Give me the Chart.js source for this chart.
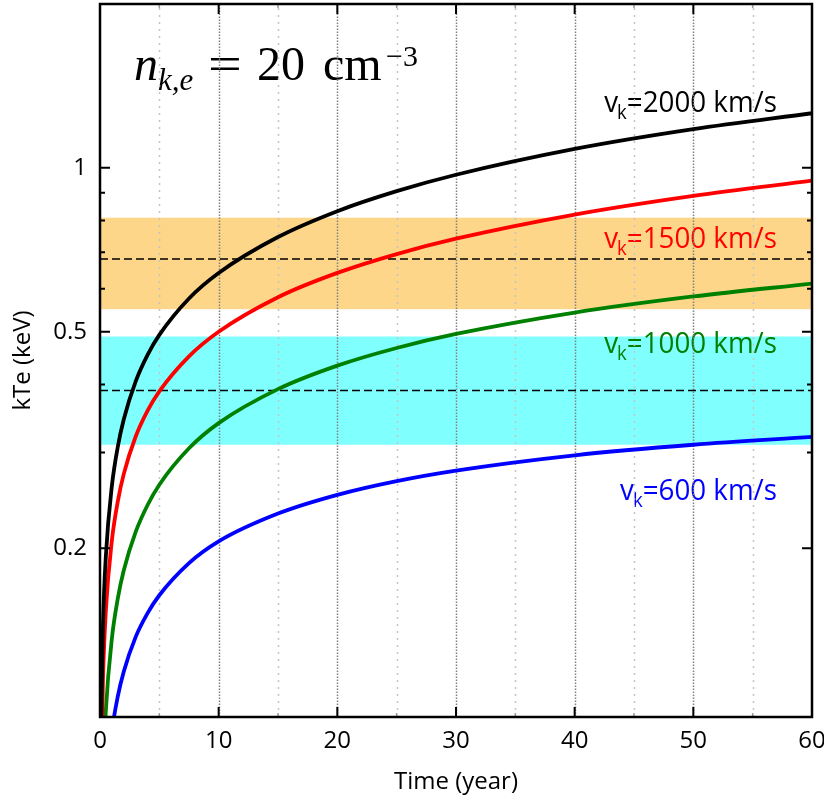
<!DOCTYPE html>
<html><head><meta charset="utf-8">
<script src="https://cdn.jsdelivr.net/npm/chart.js@4/dist/chart.umd.min.js"></script>
<style>html,body{margin:0;padding:0;background:#fff}#wrap{width:824px;height:809px}</style>
</head><body><div id="wrap"><canvas id="c" width="824" height="809"></canvas></div>
<script>
// ---- data ----
const times   = [0.1, 0.25, 0.5, 1, 1.5, 2, 3, 4, 5, 7.5, 10, 15, 20, 25, 30, 40, 50, 60];
const kTe2000 = [0.0965, 0.1444, 0.1946, 0.2603, 0.3074, 0.3449, 0.4048, 0.4528, 0.4933, 0.5755, 0.641, 0.7463, 0.8326, 0.9062, 0.9712, 1.0835, 1.178, 1.26];
const kTe1500 = [0.0766, 0.1147, 0.1545, 0.2067, 0.244, 0.2738, 0.3207, 0.3578, 0.3886, 0.4506, 0.50, 0.5786, 0.6413, 0.6945, 0.7411, 0.8208, 0.8883, 0.9474];
const kTe1000 = [0.0502, 0.0752, 0.1013, 0.1365, 0.1618, 0.1821, 0.2142, 0.24, 0.2618, 0.3054, 0.3397, 0.3922, 0.4332, 0.4668, 0.4953, 0.5422, 0.5804, 0.613];
const kTe600  = [0.0374, 0.0539, 0.0707, 0.092, 0.1069, 0.1187, 0.1374, 0.1519, 0.164, 0.1879, 0.206, 0.2317, 0.2508, 0.2658, 0.2779, 0.2965, 0.31, 0.3204];
const seriesLabels = ['2000', '1500', '1000', '600'];
const orangeBand = [0.55, 0.81], orangeLine = 0.68;
const cyanBand   = [0.31, 0.49], cyanLine   = 0.39;
const xTicks = [0, 10, 20, 30, 40, 50, 60];
const xMinorTicks = [5, 15, 25, 35, 45, 55];
const yTickValues = [0.2, 0.5, 1];
const yTickLabels = ['0.2', '0.5', '1'];
const yMinorTicks = [0.3, 0.4, 0.6, 0.7, 0.8, 0.9];
const yMin = 0.098, yMax = 2.0;

const seriesColors = ['#000000', '#ff0000', '#008000', '#0000ff'];
const SANS = "'Open Sans', 'DejaVu Sans', sans-serif";
const SERIF = "'Liberation Serif', 'DejaVu Serif', serif";

function pts(arr){ return times.map((t,i)=>({x:t, y:arr[i]})); }
const allSeries = [kTe2000, kTe1500, kTe1000, kTe600];

function drawVk(ctx, right, baseline, num, color){
  const big = '30px ' + SANS, small = '20px ' + SANS;
  const rest = '=' + num + ' km/s';
  ctx.font = big; const wv = ctx.measureText('v').width, wr = ctx.measureText(rest).width;
  ctx.font = small; const wk = ctx.measureText('k').width;
  const total = wv + wk - 1 + wr;
  ctx.save();
  ctx.translate(right, baseline); ctx.scale(0.925, 1);
  let x = -total;
  ctx.fillStyle = color; ctx.textAlign = 'left'; ctx.textBaseline = 'alphabetic';
  ctx.font = big; ctx.fillText('v', x, 0); x += wv;
  ctx.font = small; ctx.fillText('k', x - 1, 7); x += wk - 1;
  ctx.font = big; ctx.fillText(rest, x, 0);
  ctx.restore();
}

const deco = {
  id: 'deco',
  beforeDatasetsDraw(chart){
    const {ctx, chartArea:a, scales:{x, y}} = chart;
    ctx.save();
    ctx.beginPath(); ctx.rect(a.left, a.top, a.right-a.left, a.bottom-a.top); ctx.clip();
    [[orangeBand,'#fdd68a'],[cyanBand,'#80ffff']].forEach(([b,c])=>{
      const y1 = y.getPixelForValue(b[1]), y2 = y.getPixelForValue(b[0]);
      ctx.fillStyle = c; ctx.fillRect(a.left, y1, a.right-a.left, y2-y1);
    });
    ctx.fillStyle = '#000'; ctx.textBaseline = 'alphabetic'; ctx.textAlign = 'left';
    ctx.font = 'italic 48px ' + SERIF; ctx.fillText('n', 134, 80);
    ctx.font = 'italic 31px ' + SERIF; ctx.fillText('k,e', 158, 90);
    ctx.save(); ctx.translate(208, 80); ctx.scale(1.25, 1);
    ctx.font = '48px ' + SERIF; ctx.fillText('=', 0, 0); ctx.restore();
    ctx.font = '48px ' + SERIF;
    ctx.fillText('20', 257, 80);
    ctx.fillText('cm', 323, 80);
    ctx.font = '30px ' + SERIF; ctx.fillText('\u22123', 386, 66);
    const labelBaselines = [111.7, 248.3, 353.3, 500];
    seriesLabels.forEach((s,i)=>{
      drawVk(ctx, 777, labelBaselines[i], s, seriesColors[i]);
    });
    ctx.lineWidth = 1.5;
    ctx.strokeStyle = '#c4c4c4'; ctx.setLineDash([2,5]);
    xMinorTicks.forEach(v=>{ const px = Math.round(x.getPixelForValue(v))+0.5; ctx.beginPath(); ctx.moveTo(px,a.bottom); ctx.lineTo(px,a.top); ctx.stroke(); });
    ctx.strokeStyle = '#808080'; ctx.setLineDash([1.5,1.5]);
    xTicks.forEach(v=>{ if(v<=0||v>=60) return; const px = Math.round(x.getPixelForValue(v))+0.5; ctx.beginPath(); ctx.moveTo(px,a.bottom); ctx.lineTo(px,a.top); ctx.stroke(); });
    ctx.strokeStyle = '#000'; ctx.lineWidth = 1.5; ctx.setLineDash([8,4]);
    [orangeLine, cyanLine].forEach(v=>{ const py = y.getPixelForValue(v); ctx.beginPath(); ctx.moveTo(a.left,py); ctx.lineTo(a.right,py); ctx.stroke(); });
    ctx.restore();
  },
  afterDatasetsDraw(chart){
    const {ctx, chartArea:a, scales:{x, y}} = chart;
    ctx.save();
    ctx.strokeStyle = '#000'; ctx.lineWidth = 2; ctx.setLineDash([]);
    xTicks.forEach(v=>{ if(v<=0||v>=60) return; const px = x.getPixelForValue(v);
      ctx.beginPath(); ctx.moveTo(px,a.bottom); ctx.lineTo(px,a.bottom-10); ctx.moveTo(px,a.top); ctx.lineTo(px,a.top+10); ctx.stroke(); });
    yTickValues.forEach(v=>{ const py = y.getPixelForValue(v);
      ctx.beginPath(); ctx.moveTo(a.left,py); ctx.lineTo(a.left+10,py); ctx.moveTo(a.right,py); ctx.lineTo(a.right-10,py); ctx.stroke(); });
    yMinorTicks.forEach(v=>{ const py = y.getPixelForValue(v);
      ctx.beginPath(); ctx.moveTo(a.left,py); ctx.lineTo(a.left+5,py); ctx.moveTo(a.right,py); ctx.lineTo(a.right-5,py); ctx.stroke(); });
    ctx.strokeStyle = '#999'; ctx.lineWidth = 1.5;
    xMinorTicks.forEach(v=>{ const px = x.getPixelForValue(v);
      ctx.beginPath(); ctx.moveTo(px,a.bottom); ctx.lineTo(px,a.bottom-4); ctx.moveTo(px,a.top); ctx.lineTo(px,a.top+4); ctx.stroke(); });
    ctx.strokeStyle = '#000'; ctx.lineWidth = 2.5;
    ctx.strokeRect(a.left, a.top, a.right-a.left, a.bottom-a.top);
    ctx.restore();
  }
};

new Chart(document.getElementById('c'), {
  type: 'scatter',
  data: {
    datasets: allSeries.map((arr,i)=>({
      label: 'vk=' + seriesLabels[i] + ' km/s',
      data: pts(arr),
      showLine: true,
      borderColor: seriesColors[i],
      borderWidth: 3.8,
      pointRadius: 0,
      cubicInterpolationMode: 'monotone',
      clip: 0
    }))
  },
  options: {
    responsive: false,
    animation: false,
    layout: {padding: {top: 4, right: 12, left: 0, bottom: 0}},
    plugins: {legend: {display: false}, tooltip: {enabled: false}},
    scales: {
      x: {
        type: 'linear', min: 0, max: 60,
        grid: {display: false, drawTicks: false},
        border: {display: false},
        afterBuildTicks: s => { s.ticks = xTicks.map(v=>({value:v})); },
        ticks: {font: {family: SANS, size: 24}, color: '#000', padding: 10, maxRotation: 0, autoSkip: false},
        title: {display: true, text: 'Time (year)', font: {family: SANS, size: 24}, color: '#000', padding: {top: 0, bottom: 12}},
        afterFit: s => { s.height = 92; s.paddingLeft = 0; s.paddingRight = 0; }
      },
      y: {
        type: 'logarithmic', min: yMin, max: yMax,
        grid: {display: false, drawTicks: false},
        border: {display: false},
        afterBuildTicks: s => { s.ticks = yTickValues.map(v=>({value:v})); },
        ticks: {font: {family: SANS, size: 24}, color: '#000', padding: 13, autoSkip: false,
                callback: (v, i) => yTickLabels[i]},
        title: {display: true, text: 'kTe (keV)', font: {family: SANS, size: 24}, color: '#000', padding: {top: 9, bottom: 0}},
        afterFit: s => { s.width = 100; s.paddingTop = 0; s.paddingBottom = 0; }
      }
    }
  },
  plugins: [deco]
});
</script></body></html>
